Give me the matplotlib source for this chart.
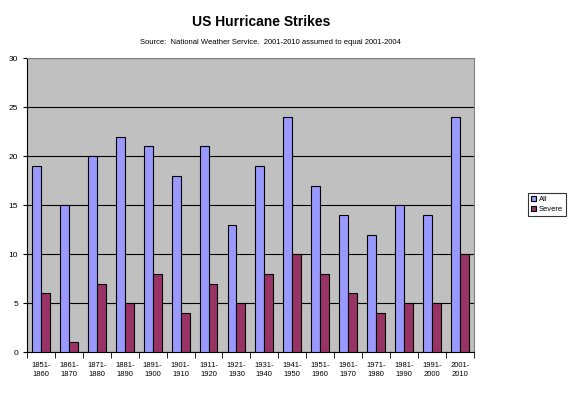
import matplotlib
matplotlib.use('Agg')
import matplotlib.pyplot as plt
import numpy as np

plt.close('all')

decades = ['1851-\n1860', '1861-\n1870', '1871-\n1880', '1881-\n1890', '1891-\n1900',
           '1901-\n1910', '1911-\n1920', '1921-\n1930', '1931-\n1940', '1941-\n1950',
           '1951-\n1960', '1961-\n1970', '1971-\n1980', '1981-\n1990', '1991-\n2000',
           '2001-\n2010']
all_strikes = [19, 15, 20, 22, 21, 18, 21, 13, 19, 24, 17, 14, 12, 15, 14, 24]
severe_strikes = [6, 1, 7, 5, 8, 4, 7, 5, 8, 10, 8, 6, 4, 5, 5, 10]

plt.rcParams['font.family'] = ['Liberation Sans', 'DejaVu Sans']

fig = plt.figure(figsize=(5.75, 3.93), dpi=100)
ax = fig.add_axes([0.047, 0.104, 0.777, 0.748])

x = np.arange(len(decades))
w = 0.32
ax.bar(x - w / 2, all_strikes, w, color='#9999FF', edgecolor='black', linewidth=0.8, label='All', zorder=3)
ax.bar(x + w / 2, severe_strikes, w, color='#993366', edgecolor='black', linewidth=0.8, label='Severe', zorder=3)

ax.set_facecolor('#C0C0C0')
ax.set_xlim(-0.5, len(decades) - 0.5)
ax.set_ylim(0, 30)
ax.set_yticks(range(0, 31, 5))
ax.yaxis.grid(True, color='black', linewidth=0.8, zorder=1)
ax.tick_params(axis='y', labelsize=6, length=3, direction='out')

ax.set_xticks(x)
ax.set_xticklabels(decades, fontsize=5.5, linespacing=1.4)
ax.tick_params(axis='x', length=0, pad=7)
ax.set_xticks(np.arange(-0.5, len(decades)), minor=True)
ax.tick_params(axis='x', which='minor', length=4, direction='out')

for s in ['top', 'right']:
    ax.spines[s].set_color('#808080')
for s in ['left', 'bottom']:
    ax.spines[s].set_color('black')

fig.text(0.454, 0.935, 'US Hurricane Strikes', ha='center', fontsize=10, fontweight='bold')
fig.text(0.47, 0.888, 'Source:  National Weather Service.  2001-2010 assumed to equal 2001-2004',
         ha='center', fontsize=5.5)

leg = ax.legend(loc='upper left', bbox_to_anchor=(528 / 575, 1 - 193 / 393),
                bbox_transform=fig.transFigure, fontsize=5.5, frameon=True,
                fancybox=False, edgecolor='black', handlelength=0.7, handleheight=0.7,
                handletextpad=0.3, borderpad=0.4, labelspacing=0.3, borderaxespad=0)
leg.get_frame().set_linewidth(0.8)

fig.savefig('out.png', dpi=100, facecolor='white')
